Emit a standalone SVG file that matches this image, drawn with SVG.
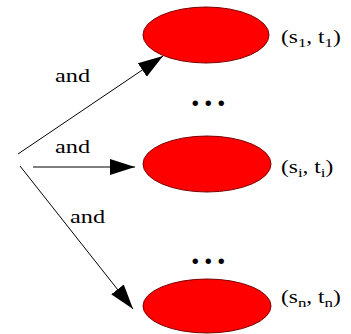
<svg xmlns="http://www.w3.org/2000/svg" width="351" height="334" viewBox="0 0 351 334">
<style>
.node{fill:#ff0000;stroke:#7a0000;stroke-width:1}
.edge{stroke:#000;stroke-width:1;fill:none;marker-end:url(#arr)}
.t{font-family:'Liberation Serif','DejaVu Serif','Times New Roman',serif;fill:#000}
.lbl{font-size:18px}
.sub{font-size:13px}
.dots{font-size:34px;font-weight:bold;letter-spacing:4.5px}
</style>
<defs>
<marker id="arr" markerUnits="userSpaceOnUse" markerWidth="26" markerHeight="18" refX="25" refY="9" orient="auto">
<path d="M0,1 L25,9 L0,17 Z" fill="#000"/>
</marker>
</defs>
<rect width="351" height="334" fill="#fff"/>
<g id="connectors">
<line class="edge" x1="18" y1="154" x2="163" y2="56"/>
<line class="edge" x1="33" y1="167" x2="135" y2="167"/>
<line class="edge" x1="20" y1="166" x2="133" y2="309"/>
<text class="t lbl" transform="translate(55,82) scale(1.35,1)">and</text>
<text class="t lbl" transform="translate(55,153) scale(1.35,1)">and</text>
<text class="t lbl" transform="translate(70,223) scale(1.35,1)">and</text>
</g>
<g id="node1">
<ellipse class="node" cx="206" cy="35" rx="63" ry="28"/>
<text class="t lbl" transform="translate(281,43) scale(1.3,1)">(s<tspan class="sub" dy="4">1</tspan><tspan dy="-4">, t</tspan><tspan class="sub" dy="4">1</tspan><tspan dy="-4">)</tspan></text>
</g>
<g id="dots1"><text class="t dots" x="191" y="106">...</text></g>
<g id="node2">
<ellipse class="node" cx="207" cy="164" rx="64" ry="28"/>
<text class="t lbl" transform="translate(281,173) scale(1.3,1)">(s<tspan class="sub" dy="4">i</tspan><tspan dy="-4">, t</tspan><tspan class="sub" dy="4">i</tspan><tspan dy="-4">)</tspan></text>
</g>
<g id="dots2"><text class="t dots" x="191" y="264">...</text></g>
<g id="node3">
<ellipse class="node" cx="207" cy="306" rx="64" ry="27"/>
<text class="t lbl" transform="translate(281,303) scale(1.3,1)">(s<tspan class="sub" dy="4">n</tspan><tspan dy="-4">, t</tspan><tspan class="sub" dy="4">n</tspan><tspan dy="-4">)</tspan></text>
</g>
</svg>
